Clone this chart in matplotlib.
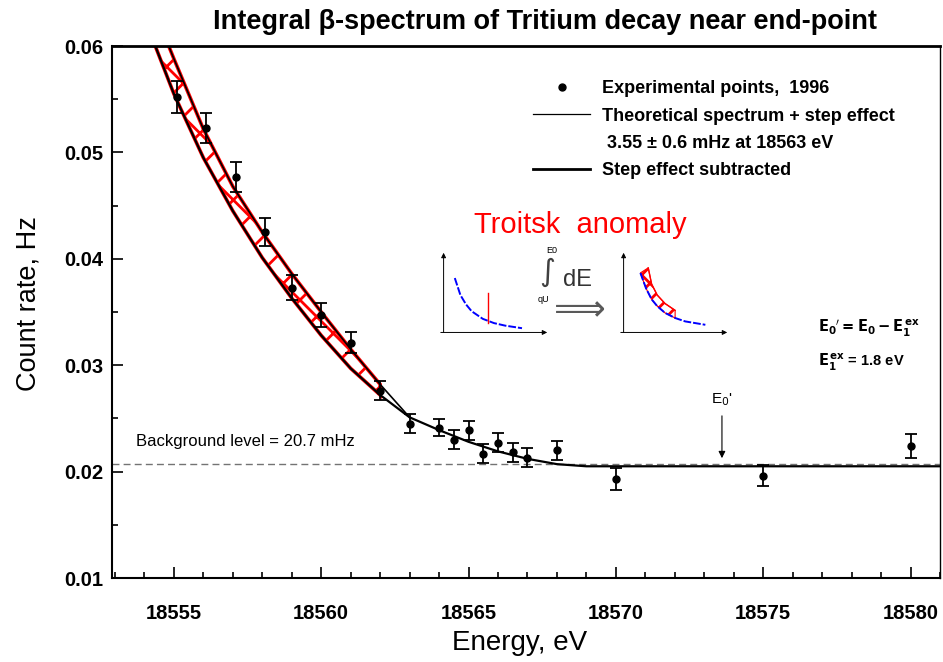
import numpy as np
import matplotlib
matplotlib.use('Agg')
import matplotlib.pyplot as plt
from matplotlib.lines import Line2D
from matplotlib.ticker import MultipleLocator, FormatStrFormatter

plt.rcParams['font.family'] = ['Liberation Sans', 'DejaVu Sans']
plt.rcParams['hatch.linewidth'] = 2.0

# experimental points (1996)
energy = [18555.1, 18556.1, 18557.1, 18558.1, 18559.0, 18560.0, 18561.0, 18562.0,
          18563.0, 18564.0, 18564.5, 18565.0, 18565.5, 18566.0, 18566.5, 18567.0,
          18568.0, 18570.0, 18575.0, 18580.0]
rate = [0.0552, 0.0523, 0.0477, 0.0425, 0.0373, 0.0347, 0.0321, 0.0276,
        0.0245, 0.0241, 0.0230, 0.0239, 0.0217, 0.0227, 0.0218, 0.0213,
        0.0220, 0.0193, 0.0196, 0.0224]
rate_err = [0.0015, 0.0014, 0.0014, 0.0013, 0.0012, 0.0011, 0.0010, 0.0009,
            0.0009, 0.0008, 0.0009, 0.0009, 0.0009, 0.0009, 0.0009, 0.0009,
            0.0009, 0.0010, 0.0010, 0.0011]

# step effect subtracted
sub_e = [18554.2, 18555, 18556, 18557, 18558, 18559, 18560, 18561, 18562,
         18563, 18564, 18565, 18566, 18567, 18568, 18569, 18570, 18581.5]
sub_c = [0.0612, 0.0555, 0.0495, 0.0445, 0.0401, 0.0363, 0.0328, 0.0297, 0.0272,
         0.0251, 0.0239, 0.0228, 0.0219, 0.0212, 0.0207, 0.0205, 0.0205, 0.0205]

# theoretical spectrum + step effect
step_e = [18554.65, 18555, 18556, 18557, 18558, 18559, 18560, 18561, 18562, 18563]
step_c = [0.0612, 0.0588, 0.0522, 0.0468, 0.0425, 0.0386, 0.0350, 0.0315, 0.0282, 0.0251]

band_end = 18562
background = 0.0207
e0_prime = 18573.6

# schematic insets (arbitrary units)
diff_x = [0.15, 0.2, 0.25, 0.3, 0.4, 0.5, 0.6, 0.75]
diff_y = [0.67, 0.47, 0.36, 0.28, 0.19, 0.14, 0.11, 0.08]
line_x = 0.45
line_y = [0.14, 0.5]
int_x = [0.2, 0.25, 0.3, 0.35, 0.42, 0.51, 0.6, 0.78]
int_y = [0.73, 0.55, 0.42, 0.34, 0.26, 0.2, 0.16, 0.12]
anom_x = [0.27, 0.3, 0.35, 0.42, 0.51]
anom_y = [0.79, 0.6, 0.47, 0.37, 0.29]

W, H = 943, 662
def fx(px):
    return px / W
def fy(py):
    return 1 - py / H

fig = plt.figure(figsize=(9.43, 6.62), dpi=100)
ax = fig.add_axes([fx(112), fy(578), 828 / W, 532 / H])

ax.axhline(background, color='0.45', ls=(0, (5, 3)), lw=1.0, zorder=1)

sub_e = np.array(sub_e); sub_c = np.array(sub_c)
step_e = np.array(step_e); step_c = np.array(step_c)
lo = sub_e <= band_end
up = step_e <= band_end
ax.fill(np.r_[sub_e[lo], step_e[up][::-1]], np.r_[sub_c[lo], step_c[up][::-1]],
        facecolor='none', edgecolor='red', hatch='x', lw=2.6, zorder=2)

ax.plot(sub_e, sub_c, color='k', lw=1.6, zorder=3)
ax.plot(step_e, step_c, color='k', lw=1.2, zorder=3)

ax.errorbar(energy, rate, yerr=rate_err, fmt='o', color='k', ms=5,
            capsize=4, elinewidth=1.3, capthick=1.3, zorder=4)

ax.set_xlim(18552.9, 18581.0)
ax.set_ylim(0.01, 0.06)
ax.xaxis.set_major_locator(MultipleLocator(5))
ax.xaxis.set_minor_locator(MultipleLocator(1))
ax.yaxis.set_major_locator(MultipleLocator(0.01))
ax.yaxis.set_minor_locator(MultipleLocator(0.005))
ax.yaxis.set_major_formatter(FormatStrFormatter('%.2f'))
ax.tick_params(which='both', direction='in', top=False, right=False, width=1.2)
ax.tick_params(which='major', length=8, labelsize=14.5)
ax.tick_params(which='minor', length=4)
ax.tick_params(axis='x', pad=19)
ax.tick_params(axis='y', pad=6)
for lab in ax.get_xticklabels() + ax.get_yticklabels():
    lab.set_fontweight('bold')
ax.spines['top'].set_linewidth(2.0)
ax.spines['left'].set_linewidth(1.5)
ax.spines['bottom'].set_linewidth(1.5)
ax.spines['right'].set_linewidth(1.0)

ax.set_xlabel('Energy, eV', fontsize=20)
ax.set_ylabel('Count rate, Hz', fontsize=19.5)
ax.xaxis.set_label_coords(0.492, -0.098)
ax.yaxis.set_label_coords(-0.085, 0.516)

fig.text(fx(545), fy(22), 'Integral β-spectrum of Tritium decay near end-point',
         ha='center', va='center', fontsize=19.5, fontweight='bold')

handles = [Line2D([], [], marker='o', ls='none', color='k', ms=5),
           Line2D([], [], color='k', lw=0.9),
           Line2D([], [], color='none'),
           Line2D([], [], color='k', lw=2.0)]
labels = ['Experimental points,  1996', 'Theoretical spectrum + step effect',
          ' 3.55 ± 0.6 mHz at 18563 eV', 'Step effect subtracted']
leg = ax.legend(handles, labels, loc='upper left', bbox_to_anchor=(0.508, 0.936),
                frameon=False, borderpad=0, borderaxespad=0, handlelength=3.2,
                handletextpad=0.65, labelspacing=0.58,
                prop={'size': 13, 'weight': 'bold'})

ax.text(18553.7, 0.0228, 'Background level = 20.7 mHz', fontsize=12, va='center')

ax.annotate('', xy=(e0_prime, 0.0210), xytext=(e0_prime, 0.0255),
            arrowprops=dict(arrowstyle='-|>', color='k', lw=0.8, mutation_scale=10))
ax.text(e0_prime, 0.0268, "E$_0$'", ha='center', va='center', fontsize=11)

fig.text(fx(818), fy(328), r"$\mathbf{E_0{}'=E_0-E_1^{\,ex}}$", fontsize=10.5, va='center')
fig.text(fx(818), fy(362), r"$\mathbf{E_1^{\,ex}}$ = 1.8 eV", fontsize=10.5,
         fontweight='bold', va='center')

fig.text(fx(580), fy(225), 'Troitsk  anomaly', color='red', fontsize=21,
         ha='center', va='center')

# schematic insets: differential spectrum and its integral
ins1 = fig.add_axes([fx(438), fy(335), 112 / W, 85 / H])
ins2 = fig.add_axes([fx(618), fy(335), 112 / W, 85 / H])
for a in (ins1, ins2):
    a.set_xlim(0, 1)
    a.set_ylim(0, 1)
    a.axis('off')
    a.annotate('', xy=(1.0, 0.03), xytext=(0.0, 0.03),
               arrowprops=dict(arrowstyle='-|>', color='k', lw=0.7, mutation_scale=7))
    a.annotate('', xy=(0.05, 1.0), xytext=(0.05, 0.0),
               arrowprops=dict(arrowstyle='-|>', color='k', lw=0.7, mutation_scale=7))
ins1.plot(diff_x, diff_y, color='blue', lw=1.4, ls=(0, (4, 1)))
ins1.plot([line_x, line_x], line_y, color='red', lw=1.0)

ins2.fill(np.r_[anom_x, int_x[:6][::-1]], np.r_[anom_y, int_y[:6][::-1]],
          facecolor='none', edgecolor='red', hatch='xx', lw=0.8)
ins2.plot(int_x, int_y, color='blue', lw=1.4, ls=(0, (4, 1)))
ins2.plot(anom_x, anom_y, color='red', lw=1.0)

fig.text(fx(547), fy(272), '∫', fontsize=22, ha='center', va='center',
         family=['DejaVu Sans'], color='0.25')
fig.text(fx(552), fy(250), 'E0', fontsize=6.5, ha='center', va='center')
fig.text(fx(543), fy(300), 'qU', fontsize=6.5, ha='center', va='center')
fig.text(fx(578), fy(280), 'dE', fontsize=17, ha='center', va='center', color='0.2')
fig.text(fx(580), fy(310), '⟹', fontsize=26, ha='center', va='center',
         family=['DejaVu Sans'], color='0.35')

fig.savefig('out.png', dpi=100)
